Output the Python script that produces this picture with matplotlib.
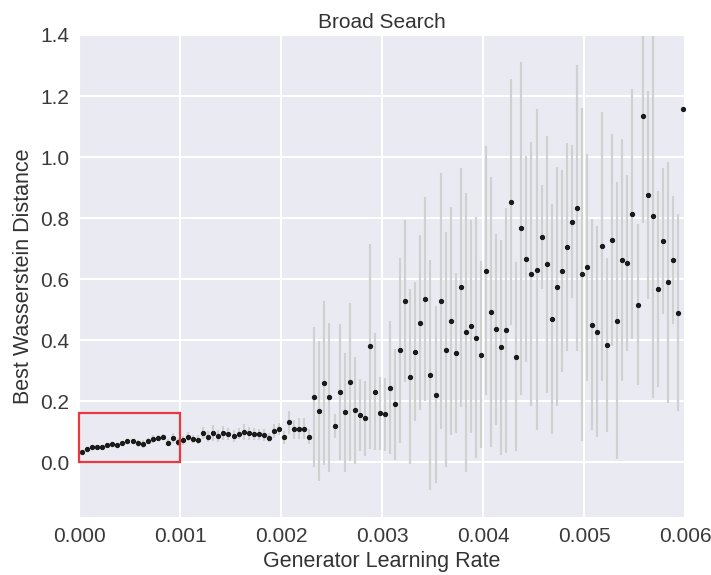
import numpy as np
import matplotlib
matplotlib.use("Agg")
import matplotlib.pyplot as plt
import seaborn as sns
from matplotlib.patches import Rectangle
from matplotlib.ticker import FormatStrFormatter

sns.set_style("darkgrid")
plt.rcParams['font.family'] = ['Liberation Sans', 'DejaVu Sans']

# Generator learning rates (regular grid of the search)
learning_rates = np.linspace(0.00003, 0.00598, 120)

best_wd = [
    0.033, 0.044, 0.049, 0.051, 0.051, 0.057, 0.059, 0.057, 0.063, 0.068,
    0.068, 0.061, 0.059, 0.070, 0.076, 0.080, 0.081, 0.064, 0.079, 0.066,
    0.072, 0.083, 0.076, 0.073, 0.096, 0.083, 0.095, 0.086, 0.096, 0.091,
    0.086, 0.093, 0.099, 0.094, 0.091, 0.091, 0.090, 0.080, 0.102, 0.108,
    0.081, 0.131, 0.107, 0.110, 0.110, 0.083, 0.214, 0.168, 0.259, 0.212,
    0.118, 0.231, 0.163, 0.264, 0.170, 0.154, 0.143, 0.379, 0.231, 0.160,
    0.156, 0.244, 0.190, 0.367, 0.528, 0.280, 0.362, 0.457, 0.535, 0.286,
    0.221, 0.529, 0.368, 0.462, 0.358, 0.573, 0.425, 0.445, 0.408, 0.352,
    0.627, 0.492, 0.435, 0.376, 0.432, 0.853, 0.345, 0.766, 0.666, 0.616,
    0.631, 0.737, 0.648, 0.470, 0.575, 0.627, 0.704, 0.788, 0.833, 0.616,
    0.638, 0.451, 0.427, 0.708, 0.384, 0.729, 0.464, 0.662, 0.652, 0.814,
    0.516, 1.135, 0.876, 0.807, 0.566, 0.726, 0.589, 0.663, 0.490, 1.157,
]

wd_err = [
    0.003, 0.004, 0.004, 0.004, 0.004, 0.005, 0.005, 0.005, 0.006, 0.006,
    0.008, 0.010, 0.012, 0.010, 0.012, 0.010, 0.010, 0.012, 0.015, 0.012,
    0.015, 0.015, 0.012, 0.015, 0.020, 0.018, 0.025, 0.020, 0.022, 0.020,
    0.020, 0.018, 0.025, 0.020, 0.020, 0.018, 0.020, 0.015, 0.022, 0.020,
    0.022, 0.038, 0.030, 0.035, 0.035, 0.025, 0.229, 0.229, 0.268, 0.244,
    0.039, 0.223, 0.195, 0.259, 0.176, 0.117, 0.124, 0.337, 0.193, 0.119,
    0.120, 0.219, 0.182, 0.303, 0.265, 0.287, 0.228, 0.287, 0.334, 0.378,
    0.290, 0.420, 0.385, 0.373, 0.263, 0.392, 0.457, 0.350, 0.395, 0.306,
    0.408, 0.444, 0.312, 0.353, 0.402, 0.403, 0.310, 0.545, 0.338, 0.432,
    0.525, 0.170, 0.421, 0.377, 0.391, 0.331, 0.341, 0.251, 0.468, 0.546,
    0.371, 0.345, 0.346, 0.441, 0.286, 0.348, 0.454, 0.397, 0.288, 0.410,
    0.263, 0.350, 0.342, 0.598, 0.321, 0.239, 0.396, 0.210, 0.324, 0.000,
]

x_ticks = [0.000, 0.001, 0.002, 0.003, 0.004, 0.005, 0.006]
y_ticks = [0.0, 0.2, 0.4, 0.6, 0.8, 1.0, 1.2, 1.4]

fig = plt.figure(figsize=(7.11, 5.75), dpi=100)
ax = fig.add_axes([79/711, 1 - 517/575, (685 - 79)/711, (517 - 35)/575])

ax.errorbar(learning_rates, best_wd, yerr=wd_err, fmt='none',
            ecolor='#d0d0d0', elinewidth=1.6, capsize=0, zorder=2)
ax.plot(learning_rates, best_wd, 'o', color='#1a1a1a', markersize=2.8,
        zorder=3)

ax.add_patch(Rectangle((0.0, 0.0), 0.001, 0.161, fill=False,
                       edgecolor='#e8393f', linewidth=1.6, zorder=4,
                       clip_on=False))

ax.set_xlim(0, 0.006)
ax.set_ylim(-0.18, 1.4)
ax.set_xticks(x_ticks)
ax.set_yticks(y_ticks)
ax.xaxis.set_major_formatter(FormatStrFormatter('%.3f'))
ax.yaxis.set_major_formatter(FormatStrFormatter('%.1f'))
ax.tick_params(labelsize=15, colors='#3a3a3a')
ax.grid(color='white', linewidth=1.5)

ax.set_title('Broad Search', fontsize=15, color='#333333', pad=5)
ax.set_xlabel('Generator Learning Rate', fontsize=15.5, color='#333333')
ax.set_ylabel('Best Wasserstein Distance', fontsize=15.5, color='#333333')

fig.savefig('out.png', dpi=100)
